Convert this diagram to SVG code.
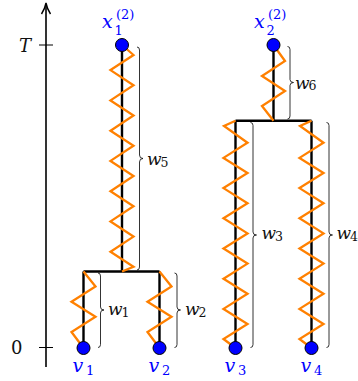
<svg xmlns="http://www.w3.org/2000/svg" width="358" height="381" viewBox="0 0 358 381">
<defs>
<style>
.edge{stroke:#000;stroke-width:2.4;fill:none;stroke-linecap:butt}
.zig{stroke:#ff8000;stroke-width:2.3;fill:none;stroke-linejoin:miter}
.brace{stroke:#000;stroke-width:0.8;fill:none}
.node{fill:#0000ff;stroke:#000;stroke-width:1}
.lbl{font-family:"DejaVu Serif",serif;font-style:italic;font-size:19px;fill:#0000ff}
.lsub{font-family:"DejaVu Serif",serif;font-size:13px;fill:#0000ff}
.w{font-family:"DejaVu Serif",serif;font-style:italic;font-size:17px;fill:#111}
.wsub{font-family:"DejaVu Serif",serif;font-size:12.5px;fill:#111}
.ax{font-family:"DejaVu Serif",serif;font-size:18px;fill:#111}
</style>
</defs>
<rect width="358" height="381" fill="#fff"/>
<g id="axis">
<line x1="46" y1="367" x2="46" y2="4" stroke="#000" stroke-width="1.6"/>
<path d="M41.5,14 Q45,8.5 46,3 Q47,8.5 50.5,14" stroke="#000" stroke-width="1.4" fill="none"/>
<line x1="39" y1="45" x2="53" y2="45" stroke="#000" stroke-width="1"/>
<line x1="39" y1="347.5" x2="53" y2="347.5" stroke="#000" stroke-width="1"/>
<text class="ax" x="19" y="51.5" font-style="italic">T</text>
<text class="ax" x="11" y="354">0</text>
</g>
<g id="connectors">
<path class="edge" d="M122,45V271.5M83.5,271.5H159.5M83.5,271.5V348M159.5,271.5V348M273.5,45V120.7M235.5,120.7H311.5M235.5,120.7V348M311.5,120.7V348"/>
<path class="zig" d="M122,45L133.5,55L110.5,70.1L133.5,85.3L110.5,100.4L133.5,115.5L110.5,130.7L133.5,145.8L110.5,160.9L133.5,176L110.5,191.2L133.5,206.3L110.5,221.4L133.5,236.6L110.5,251.7L133.5,266.8L122,271.5"/>
<path class="zig" d="M273.5,45L285,61L262,76L285,91L262,106L273.5,120.7"/>
<path class="zig" d="M83.5,271.5L95.5,286.5L71.5,301.7L95.5,316.8L71.5,332L83.5,348"/>
<path class="zig" d="M159.5,271.5L171.5,286.5L147.5,301.7L171.5,316.8L147.5,332L159.5,348"/>
<path class="zig" d="M235.5,348L223.5,339L247.5,324L223.5,308.9L247.5,293.8L223.5,278.7L247.5,263.6L223.5,248.5L247.5,233.4L223.5,218.3L247.5,203.2L223.5,188.1L247.5,173L223.5,157.9L247.5,142.8L224,126L235.5,120.7"/>
<path class="zig" d="M311.5,348L299.5,339L323.5,324L299.5,308.9L323.5,293.8L299.5,278.7L323.5,263.6L299.5,248.5L323.5,233.4L299.5,218.3L323.5,203.2L299.5,188.1L323.5,173L299.5,157.9L323.5,142.8L300,126L311.5,120.7"/>
</g>
<g id="braces">
<path class="brace" d="M137,47Q139.5,47 139.5,50V155Q139.5,158.5 143,158.5Q139.5,158.5 139.5,162V267Q139.5,270 137,270"/>
<text class="w" x="147" y="165">w</text><text class="wsub" x="160.5" y="166.5">5</text>
<path class="brace" d="M287.5,46.5Q290,46.5 290,49.5V79.5Q290,82.5 293.5,82.5Q290,82.5 290,85.5V116Q290,119 287.5,119"/>
<text class="w" x="295" y="88.5">w</text><text class="wsub" x="308.5" y="90">6</text>
<path class="brace" d="M98,273Q100.5,273 100.5,276V307Q100.5,310 104,310Q100.5,310 100.5,313V344.5Q100.5,347.5 98,347.5"/>
<text class="w" x="108" y="315">w</text><text class="wsub" x="121.5" y="316.5">1</text>
<path class="brace" d="M174.5,273Q177,273 177,276V307Q177,310 180.5,310Q177,310 177,313V344.5Q177,347.5 174.5,347.5"/>
<text class="w" x="185" y="315">w</text><text class="wsub" x="198.5" y="316.5">2</text>
<path class="brace" d="M250.5,122.5Q253,122.5 253,125.5V232Q253,235 256.5,235Q253,235 253,238V344.5Q253,347.5 250.5,347.5"/>
<text class="w" x="261.5" y="239">w</text><text class="wsub" x="275" y="240.5">3</text>
<path class="brace" d="M326.5,122.5Q329,122.5 329,125.5V232Q329,235 332.5,235Q329,235 329,238V344.5Q329,347.5 326.5,347.5"/>
<text class="w" x="336.5" y="239">w</text><text class="wsub" x="350" y="240.5">4</text>
</g>
<g id="node-x1">
<circle class="node" cx="122" cy="45" r="6.5"/>
<text class="lbl" x="102" y="28">x</text><text class="lsub" x="114.5" y="35">1</text><text class="lsub" x="116" y="18.5">(2)</text>
</g>
<g id="node-x2">
<circle class="node" cx="273.5" cy="45" r="6.5"/>
<text class="lbl" x="254" y="28">x</text><text class="lsub" x="266.5" y="35">2</text><text class="lsub" x="268" y="18.5">(2)</text>
</g>
<g id="node-v1">
<circle class="node" cx="83.5" cy="348" r="6.5"/>
<text class="lbl" x="72.5" y="372">v</text><text class="lsub" x="86" y="375">1</text>
</g>
<g id="node-v2">
<circle class="node" cx="159.5" cy="348" r="6.5"/>
<text class="lbl" x="148.5" y="372">v</text><text class="lsub" x="162" y="375">2</text>
</g>
<g id="node-v3">
<circle class="node" cx="235.5" cy="348" r="6.5"/>
<text class="lbl" x="224.5" y="372">v</text><text class="lsub" x="238" y="375">3</text>
</g>
<g id="node-v4">
<circle class="node" cx="311.5" cy="348" r="6.5"/>
<text class="lbl" x="300.5" y="372">v</text><text class="lsub" x="314" y="375">4</text>
</g>
</svg>
